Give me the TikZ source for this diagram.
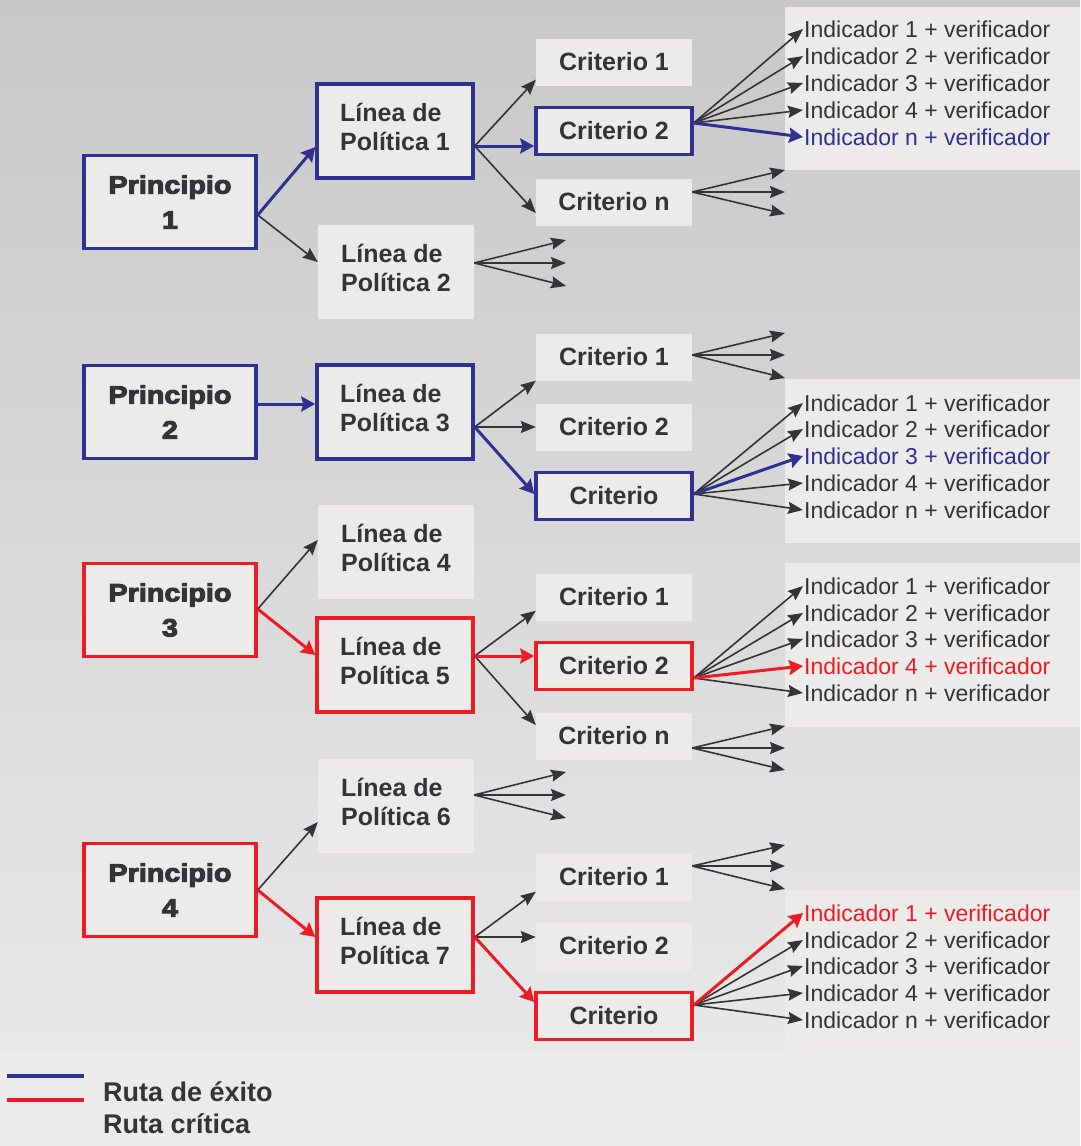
\documentclass[tikz,border=0pt]{standalone}
\usepackage{fontspec}
\setmainfont{Liberation Sans}
\newfontfamily\heavyfont[FakeBold=4,FakeStretch=1.15]{Liberation Sans Bold}
\usetikzlibrary{arrows.meta}
\definecolor{exito}{RGB}{46,49,146}
\definecolor{critica}{RGB}{237,28,36}
\definecolor{texto}{RGB}{51,51,56}
\definecolor{cajagris}{RGB}{236,235,233}
\definecolor{fondoA}{RGB}{200,200,200}
\definecolor{fondoB}{RGB}{232,232,232}
\definecolor{fondoC}{RGB}{235,235,235}
\begin{document}
\begin{tikzpicture}[x=1pt,y=-1pt,>={Stealth[length=15pt,width=12pt,inset=2pt]},
	caja/.style={fill=cajagris,text=texto,inner sep=0pt,font=\bfseries\fontsize{25}{29}\selectfont},
	princ/.style={caja,minimum width=172pt,minimum height=93pt,align=center,font=\heavyfont\fontsize{25}{35}\selectfont},
	linea/.style={caja,minimum width=156pt,minimum height=94pt,align=left,text depth=8pt},
	crit/.style={caja,minimum width=156pt,minimum height=47pt},
	borde/.style={draw=#1,line width=3.5pt},
	ind/.style={anchor=west,inner sep=1pt,font=\fontsize{23}{27}\selectfont},
	flecha/.style={->,draw=texto,line width=1.6pt},
	fruta/.style={-{Stealth[length=14pt,width=15pt,inset=2pt]},draw=#1,line width=3pt}]
		\useasboundingbox (0,0) rectangle (1080,1146);
		\shade[top color=fondoA,bottom color=fondoB] (0,0) rectangle (1080,1052);
		\fill[fondoC] (0,1052) rectangle (1080,1146);
		% paneles de indicadores
		\fill[cajagris] (785,7) rectangle (1080,170);
		\fill[cajagris] (785,379) rectangle (1080,543);
		\fill[cajagris] (785,563) rectangle (1080,727);
		\fill[cajagris] (785,890) rectangle (1080,1050);
		% principio 1
		\node[princ,borde=exito] (p1) at (170,202) {Principio\\1};
		\node[linea,borde=exito] (l1) at (395,131) {Línea de\\Política 1};
		\node[linea] (l2) at (396,272) {Línea de\\Política 2};
		\node[crit] (c11) at (614,62) {Criterio 1};
		\node[crit,borde=exito] (c12) at (614,131) {Criterio 2};
		\node[crit] (c13) at (614,202) {Criterio n};
		\foreach \k/\y in {1/29,2/56,3/83,4/110}
			\node[ind,text=texto] (i1\k) at (803,\y) {Indicador \k{} + verificador};
		\node[ind,text=exito] (i15) at (803,137) {Indicador n + verificador};
		\foreach \k/\y in {a/170,b/192,c/214} \coordinate (f13\k) at (785,\y);
		\foreach \k/\y in {a/240,b/263,c/286} \coordinate (f2\k) at (566,\y);
		\draw[flecha] ([yshift=-13pt]p1.east) -- ([yshift=10pt]l2.west);
		\draw[fruta=exito] ([yshift=-13pt]p1.east) -- ([yshift=-16pt]l1.west);
		\draw[flecha] ([yshift=-15pt]l1.east) -- ([yshift=6pt]c11.south west);
		\draw[flecha] ([yshift=-15pt]l1.east) -- ([yshift=-11pt]c13.west);
		\draw[fruta=exito] ([yshift=-15pt]l1.east) -- ([yshift=-15pt]c12.west);
		\foreach \k in {1,...,4} \draw[flecha] ([yshift=8pt]c12.east) -- (i1\k.west);
		\draw[fruta=exito] ([yshift=8pt]c12.east) -- (i15.west);
		\foreach \k in {a,b,c} \draw[flecha] ([yshift=10pt]c13.east) -- (f13\k);
		\foreach \k in {a,b,c} \draw[flecha] ([yshift=9pt]l2.east) -- (f2\k);
		% principio 2
		\node[princ,borde=exito] (p2) at (170,412) {Principio\\2};
		\node[linea,borde=exito] (l3) at (395,412) {Línea de\\Política 3};
		\node[crit] (c21) at (614,357) {Criterio 1};
		\node[crit] (c22) at (614,427) {Criterio 2};
		\node[crit,borde=exito] (c23) at (614,496) {Criterio};
		\foreach \k/\t/\y/\c in {1/1/403/texto,2/2/429/texto,3/3/456/exito,4/4/483/texto,5/n/510/texto}
			\node[ind,text=\c] (i2\k) at (803,\y) {Indicador \t{} + verificador};
		\foreach \k/\y in {a/333,b/355,c/378} \coordinate (f21\k) at (785,\y);
		\draw[fruta=exito] ([yshift=8pt]p2.east) -- ([yshift=8pt]l3.west);
		\draw[flecha] ([yshift=-15pt]l3.east) -- (c21.south west);
		\draw[flecha] ([yshift=-15pt]l3.east) -- (c22.west);
		\draw[fruta=exito] ([yshift=-15pt]l3.east) -- ([yshift=2pt]c23.west);
		\foreach \k in {a,b,c} \draw[flecha] ([yshift=2pt]c21.east) -- (f21\k);
		\foreach \k in {1,2,4,5} \draw[flecha] ([yshift=2pt]c23.east) -- (i2\k.west);
		\draw[fruta=exito] ([yshift=2pt]c23.east) -- (i23.west);
		% principio 3
		\node[princ,borde=critica] (p3) at (170,610) {Principio\\3};
		\node[linea] (l4) at (396,552) {Línea de\\Política 4};
		\node[linea,borde=critica] (l5) at (395,665) {Línea de\\Política 5};
		\node[crit] (c31) at (614,597) {Criterio 1};
		\node[crit,borde=critica] (c32) at (614,666) {Criterio 2};
		\node[crit] (c33) at (614,736) {Criterio n};
		\foreach \k/\t/\y/\c in {1/1/586/texto,2/2/613/texto,3/3/639/texto,4/4/666/critica,5/n/693/texto}
			\node[ind,text=\c] (i3\k) at (803,\y) {Indicador \t{} + verificador};
		\foreach \k/\y in {a/726,b/748,c/770} \coordinate (f33\k) at (785,\y);
		\draw[flecha] ([yshift=1pt]p3.east) -- ([yshift=12pt]l4.west);
		\draw[fruta=critica] ([yshift=1pt]p3.east) -- ([yshift=10pt]l5.west);
		\draw[flecha] ([yshift=9pt]l5.east) -- ([yshift=10pt]c31.south west);
		\draw[flecha] ([yshift=9pt]l5.east) -- ([yshift=11pt]c33.west);
		\draw[fruta=critica] ([yshift=9pt]l5.east) -- ([yshift=10pt]c32.west);
		\foreach \k in {1,2,3,5} \draw[flecha] ([yshift=-12pt]c32.east) -- (i3\k.west);
		\draw[fruta=critica] ([yshift=-12pt]c32.east) -- (i34.west);
		\foreach \k in {a,b,c} \draw[flecha] ([yshift=-12pt]c33.east) -- (f33\k);
		% principio 4
		\node[linea] (l6) at (396,806) {Línea de\\Política 6};
		\node[princ,borde=critica] (p4) at (170,890) {Principio\\4};
		\node[linea,borde=critica] (l7) at (395,945) {Línea de\\Política 7};
		\node[crit] (c41) at (614,877) {Criterio 1};
		\node[crit] (c42) at (614,946) {Criterio 2};
		\node[crit,borde=critica] (c43) at (614,1016) {Criterio};
		\foreach \k/\t/\y/\c in {1/1/913/critica,2/2/940/texto,3/3/966/texto,4/4/993/texto,5/n/1020/texto}
			\node[ind,text=\c] (i4\k) at (803,\y) {Indicador \t{} + verificador};
		\foreach \k/\y in {a/772,b/795,c/818} \coordinate (f6\k) at (566,\y);
		\foreach \k/\y in {a/845,b/866,c/889} \coordinate (f41\k) at (785,\y);
		\foreach \k in {a,b,c} \draw[flecha] ([yshift=11pt]l6.east) -- (f6\k);
		\draw[flecha] (p4.east) -- ([yshift=-16pt]l6.west);
		\draw[fruta=critica] (p4.east) -- ([yshift=8pt]l7.west);
		\draw[flecha] ([yshift=8pt]l7.east) -- ([yshift=9pt]c41.south west);
		\draw[flecha] ([yshift=8pt]l7.east) -- ([yshift=9pt]c42.west);
		\draw[fruta=critica] ([yshift=8pt]l7.east) -- ([yshift=14pt]c43.west);
		\foreach \k in {a,b,c} \draw[flecha] ([yshift=11pt]c41.east) -- (f41\k);
		\foreach \k in {2,...,5} \draw[flecha] ([yshift=11pt]c43.east) -- (i4\k.west);
		\draw[fruta=critica] ([yshift=11pt]c43.east) -- (i41.west);
		% leyenda
		\draw[exito,line width=4pt] (7,1076) -- (84,1076);
		\draw[critica,line width=4pt] (7,1100) -- (84,1100);
		\node[anchor=west,inner sep=0pt,text=texto,font=\bfseries\fontsize{27}{32}\selectfont] (rexito) at (103,1092) {Ruta de éxito};
		\node[anchor=west,inner sep=0pt,text=texto,font=\bfseries\fontsize{27}{32}\selectfont] (rcritica) at (103,1124) {Ruta crítica};
\end{tikzpicture}
\end{document}
